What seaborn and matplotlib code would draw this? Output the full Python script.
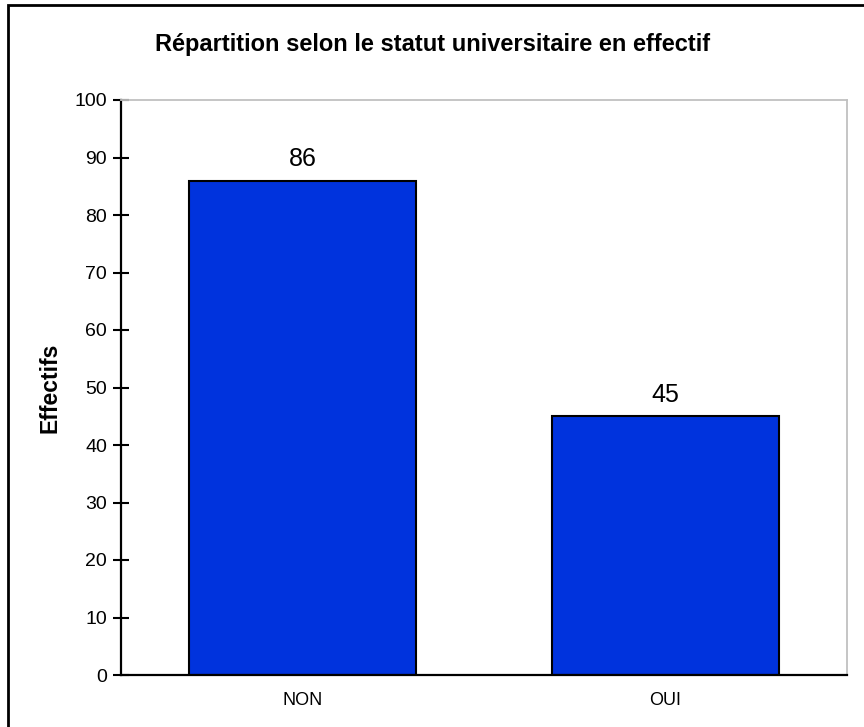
import matplotlib
matplotlib.use("Agg")
import matplotlib.pyplot as plt
from matplotlib.patches import Rectangle
import pandas as pd
import seaborn as sns

categories = ["NON", "OUI"]
effectifs = [86, 45]
yticks = [0, 10, 20, 30, 40, 50, 60, 70, 80, 90, 100]

sns.set_style("white")
plt.rcParams['font.family'] = ['Liberation Sans', 'DejaVu Sans']
plt.rcParams['text.color'] = 'black'
plt.rcParams['axes.labelcolor'] = 'black'
plt.rcParams['xtick.color'] = 'black'
plt.rcParams['ytick.color'] = 'black'

fig = plt.figure(figsize=(8.64, 7.27), dpi=100)
ax = fig.add_axes([121/864, 1 - 675/727, (847-121)/864, (675-100)/727])

df = pd.DataFrame({"statut": categories, "Effectifs": effectifs})
sns.barplot(data=df, x="statut", y="Effectifs", color="#0033DD", saturation=1,
            width=0.625, edgecolor="black", linewidth=1.5, ax=ax)

for c in ax.containers:
    ax.bar_label(c, labels=[str(v) for v in effectifs], fontsize=18, padding=7, color="black")

ax.set_xlim(-0.5, 1.5)
ax.set_ylim(0, 100)
ax.set_yticks(yticks)
ax.set_xticks([0, 1])
ax.set_xticks([-0.5, 0.5, 1.5], minor=True)
ax.tick_params(axis="x", which="major", length=0, labelsize=13, pad=12)
ax.tick_params(axis="x", which="minor", direction="inout", length=12, width=1.5, color="black")
ax.tick_params(axis="y", direction="inout", length=12, width=1.5, color="black",
               labelsize=14, pad=4, left=True)
ax.set_xlabel("")
ax.set_ylabel("Effectifs", fontsize=16.5, fontweight="bold", labelpad=9)

for s in ["left", "bottom"]:
    ax.spines[s].set_color("black")
    ax.spines[s].set_linewidth(1.6)
for s in ["top", "right"]:
    ax.spines[s].set_color("#c0c0c0")
    ax.spines[s].set_linewidth(1.3)

fig.text(433/864, 1 - 45/727, "Répartition selon le statut universitaire en effectif",
         ha="center", va="center", fontsize=17, fontweight="bold")

# outer chart border (left/top visible, right/bottom cut off)
fig.patches.append(Rectangle((8/864, -0.1), 1.2, 1 - 5/727 + 0.1, transform=fig.transFigure,
                             fill=False, edgecolor="black", linewidth=2))

fig.savefig("out.png", dpi=100)
